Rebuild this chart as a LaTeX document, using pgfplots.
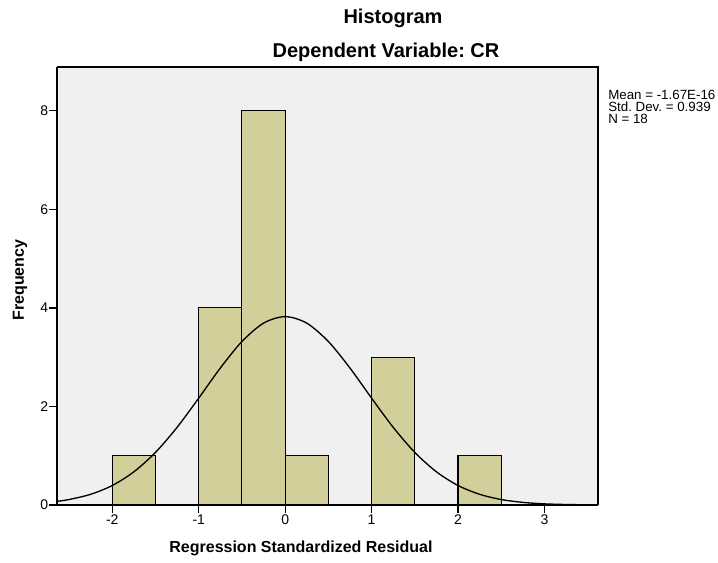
\documentclass[border=0pt]{standalone}
\usepackage{pgfplots}
\pgfplotsset{compat=1.18}
\usepackage{fontspec}
\setmainfont{Liberation Sans}
\frenchspacing
\definecolor{barfill}{HTML}{D3CF9A}
\definecolor{plotbg}{HTML}{F0F0F0}

\begin{document}
\begin{tikzpicture}[x=0.75pt,y=0.75pt]
% page size in px (718 x 563), origin bottom-left
\path (0,0) rectangle (718,563);
\begin{axis}[
    at={(57*0.75pt,58*0.75pt)}, anchor=south west,
    scale only axis,
    width=541*0.75pt, height=438*0.75pt,
    xmin=-2.64, xmax=3.62,
    ymin=0, ymax=8.89,
    axis background/.style={fill=plotbg},
    axis line style={line width=0.9pt},
    xtick={-2,-1,0,1,2,3},
    ytick={0,2,4,6,8},
    axis x line*=bottom, axis y line*=left,
    tick align=outside,
    major tick length=6pt,
    tick style={black, line width=0.9pt},
    ticklabel style={font=\fontsize{10.5}{12}\selectfont},
    xticklabel style={inner sep=1pt},
    yticklabel style={inner sep=0.5pt},
    /pgf/number format/assume math mode=true,
    clip=false,
]
% histogram bars (bin width 0.5)
\addplot[ybar interval, fill=barfill, draw=black, line width=0.8pt] coordinates {
    (-2,1) (-1.5,0)
};
\addplot[ybar interval, fill=barfill, draw=black, line width=0.8pt] coordinates {
    (-1,4) (-0.5,8) (0,1) (0.5,0)
};
\addplot[ybar interval, fill=barfill, draw=black, line width=0.8pt] coordinates {
    (1,3) (1.5,0)
};
\addplot[ybar interval, fill=barfill, draw=black, line width=0.8pt] coordinates {
    (2,1) (2.5,0)
};
% normal curve
\addplot[smooth, black, line width=1pt] coordinates {
    (-2.64,0.074) (-2.5,0.111) (-2.25,0.217) (-2,0.396) (-1.75,0.674)
    (-1.5,1.068) (-1.25,1.577) (-1,2.169) (-0.75,2.780) (-0.5,3.318)
    (-0.25,3.691) (0,3.824) (0.25,3.691) (0.5,3.318) (0.75,2.780)
    (1,2.169) (1.25,1.577) (1.5,1.068) (1.75,0.674) (2,0.396)
    (2.25,0.217) (2.5,0.111) (2.75,0.053) (3,0.023) (3.25,0.010)
    (3.5,0.004) (3.62,0.002)
};
% frame top and right
\draw[line width=0.9pt] (rel axis cs:0,1) -- (rel axis cs:1,1) -- (rel axis cs:1,0);
\end{axis}
% titles and labels
\node[font=\bfseries\fontsize{15}{18}\selectfont] at (393,563-18) {Histogram};
\node[font=\bfseries\fontsize{15}{18}\selectfont] at (386,563-52) {Dependent Variable: CR};
\node[font=\bfseries\fontsize{12}{14}\selectfont] at (301,563-548) {Regression Standardized Residual};
\node[font=\bfseries\fontsize{12}{14}\selectfont, rotate=90] at (20,563-280) {Frequency};
\node[font=\fontsize{10}{9}\selectfont, align=left, anchor=north west, inner sep=0pt] at (608,563-90)
  {Mean = -1.67E-16\\Std. Dev. = 0.939\\N = 18};
\end{tikzpicture}
\end{document}
